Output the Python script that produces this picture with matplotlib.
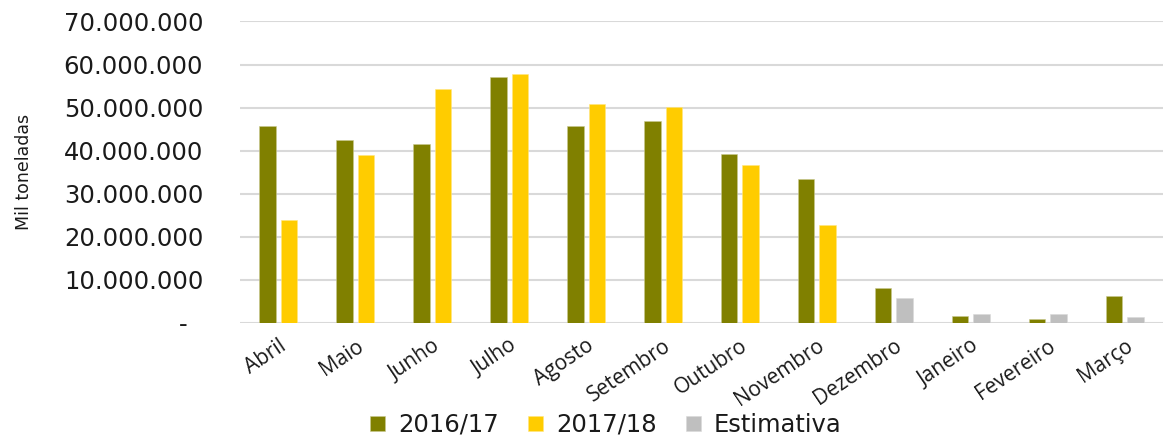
import matplotlib
matplotlib.use("Agg")
import matplotlib.pyplot as plt
import numpy as np
from matplotlib.ticker import FuncFormatter

meses = ["Abril", "Maio", "Junho", "Julho", "Agosto", "Setembro",
         "Outubro", "Novembro", "Dezembro", "Janeiro", "Fevereiro", "Março"]
safra_2016_17 = [45.7e6, 42.5e6, 41.5e6, 57.0e6, 45.7e6, 46.9e6,
                 39.2e6, 33.4e6, 8.2e6, 1.6e6, 0.95e6, 6.2e6]
safra_2017_18 = [23.8e6, 38.9e6, 54.3e6, 57.9e6, 50.8e6, 50.2e6,
                 36.7e6, 22.8e6]
estimativa = [5.9e6, 2.1e6, 2.1e6, 1.4e6]

cor_16 = "#808000"
cor_17 = "#FFCC00"
cor_est = "#BFBFBF"

fig = plt.figure(figsize=(11.63, 4.37), dpi=100)
ax = fig.add_axes([240 / 1163, 1 - 323 / 437, 1 - 240 / 1163, (323 - 21.5) / 437])

x = np.arange(len(meses))
w = 0.215
off = 0.14
n17 = len(safra_2017_18)

ax.bar(x - off, safra_2016_17, width=w, color=cor_16, label="2016/17",
       edgecolor="#c8c890", linewidth=0.4, zorder=3)
ax.bar(x[:n17] + off, safra_2017_18, width=w, color=cor_17, label="2017/18",
       edgecolor="#ffe680", linewidth=0.4, zorder=3)
ax.bar(x[n17:] + off, estimativa, width=w, color=cor_est, label="Estimativa",
       edgecolor="#d9d9d9", linewidth=0.4, zorder=3)

ax.set_xlim(-0.5, len(meses) - 0.5)
ax.set_ylim(0, 70e6)
ax.set_yticks(np.arange(0, 70e6 + 1, 10e6))
ax.yaxis.set_major_formatter(FuncFormatter(
    lambda v, p: "-  " if v == 0 else f"{int(v):,}".replace(",", ".")))
ax.grid(axis="y", color="#d9d9d9", linewidth=1.5, zorder=0)
for s in ax.spines.values():
    s.set_visible(False)
ax.tick_params(axis="y", length=0, pad=26.5, labelsize=17.5, labelcolor="#1a1a1a")
ax.tick_params(axis="x", length=0, pad=9)

ax.set_xticks(x)
ax.set_xticklabels(meses, rotation=34, ha="right", rotation_mode="anchor",
                   fontsize=15, family="Open Sans", color="#1a1a1a")

fig.text(24 / 1163, 1 - 172 / 437, "Mil toneladas", rotation=90,
         ha="center", va="center", fontsize=12.5, family="DejaVu Sans",
         color="#1a1a1a")

fig.legend(loc="center", bbox_to_anchor=(606 / 1163, 1 - 425 / 437), ncol=3,
           frameon=False, fontsize=17.5, handlelength=0.6, handleheight=0.6,
           handletextpad=0.55, columnspacing=1.2, labelcolor="#1a1a1a")

fig.savefig("out.png", dpi=100)
